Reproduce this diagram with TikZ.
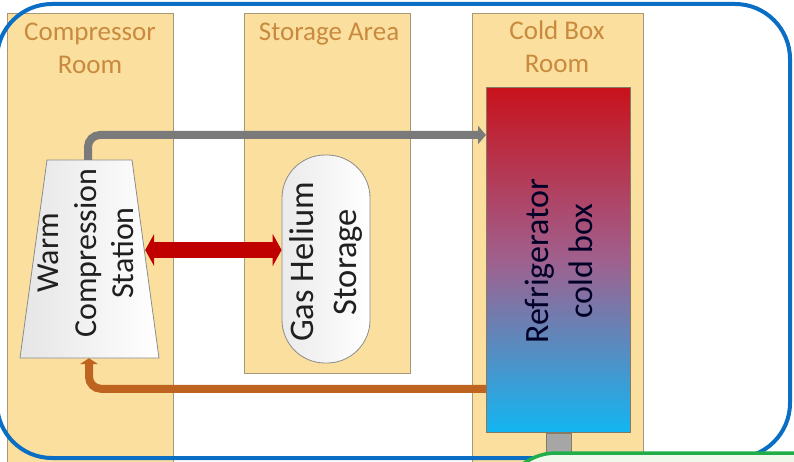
\documentclass[tikz,border=0pt]{standalone}
\usepackage{fontspec}
\setmainfont{Carlito}
\usetikzlibrary{arrows.meta}
\definecolor{roomfill}{HTML}{FADF9E}
\definecolor{roomline}{HTML}{A8987A}
\definecolor{headcol}{HTML}{C98A3E}
\definecolor{pipegray}{HTML}{7A7A7A}
\definecolor{pipebrown}{HTML}{BF6420}
\definecolor{arrred}{HTML}{C00000}
\definecolor{borderblue}{HTML}{0A6EC4}
\definecolor{bordergreen}{HTML}{1FAE4A}
\definecolor{greenfill}{HTML}{F0F8EC}
\definecolor{boxtop}{HTML}{C8121C}
\definecolor{boxmid}{HTML}{A0608E}
\definecolor{boxbot}{HTML}{12B6F2}
\definecolor{txt}{HTML}{202020}
\tikzset{
  room/.style={draw=roomline, line width=1.2pt, fill=roomfill, rectangle, anchor=north west, inner sep=0pt},
  headtext/.style={text=headcol, align=center, font=\fontsize{27}{33}\selectfont},
  innertext/.style={text=txt, align=center, rotate=90},
  pipe/.style={line width=8pt, rounded corners=12pt},
}
\begin{document}
\begin{tikzpicture}[x=1pt,y=-1pt]
\useasboundingbox (0,0) rectangle (794,462);
\clip (0,0) rectangle (794,462);
% rooms
\node[room, minimum width=166pt, minimum height=470pt] (comproom) at (7,13) {};
\node[room, minimum width=166pt, minimum height=360pt] (storeroom) at (244,13) {};
\node[room, minimum width=171pt, minimum height=470pt] (coldroom) at (472,13) {};
\node[headtext] (comptitle) at (90,48) {Compressor\\Room};
\node[headtext] (storetitle) at (329,34) {Storage Area};
\node[headtext] (coldtitle) at (557,47) {Cold Box\\Room};
% cold box
\node[draw=roomline!80!black, line width=0.8pt, anchor=north west, minimum width=144pt, minimum height=345pt, inner sep=0pt,
  top color=boxtop, bottom color=boxbot, middle color=boxmid] (cbox) at (486,87) {};
\node[draw=roomline!80!black, line width=0.8pt, fill=black!35, anchor=north, minimum width=25pt, minimum height=40pt, inner sep=0pt] (stub) at (cbox.south) {};
\node[innertext, text=black!85!blue, font=\fontsize{34}{44}\selectfont] (cboxtext) at (559,261) {Refrigerator\\cold box};
% compressor
\node[minimum width=138pt, minimum height=198pt, inner sep=0pt] (comp) at (89,259) {};
\path[draw=black!45, line width=0.8pt, left color=black!10, right color=white]
  (47,160) -- (132,160) -- (159,358) -- (20,358) -- cycle;
\node[innertext, font=\fontsize{32}{37.5}\selectfont] (comptext) at (86,253) {Warm\\Compression\\Station};
% helium tank
\node[draw=black!45, line width=0.8pt, left color=black!8, right color=white, minimum width=88pt, minimum height=208pt, rounded corners=43pt, inner sep=0pt] (tank) at (326,259) {};
\node[innertext, font=\fontsize{34.5}{43}\selectfont] (tanktext) at (326,262) {Gas Helium\\Storage};
% pipes
\draw[pipe, draw=pipegray, -{Triangle[length=8pt,width=18pt]}]
  ([xshift=-1pt]comp.north) |- ([yshift=-48pt]cbox.north west);
\draw[pipe, draw=pipebrown, -{Triangle[length=6pt,width=18pt]}]
  ([yshift=44pt]cbox.south west) -| (comp.south);
\draw[arrred, line width=16pt, {Triangle[length=9pt,width=32pt]}-{Triangle[length=9pt,width=32pt]}]
  ([xshift=-13pt,yshift=9pt]comp.east) -- ([yshift=9pt]tank.west);
% borders
\draw[borderblue, line width=4pt, rounded corners=55pt] (-3,4) rectangle (790,458);
\draw[bordergreen, line width=3.5pt, fill=greenfill, rounded corners=55pt] (501,453) rectangle (950,650);
\end{tikzpicture}
\end{document}
